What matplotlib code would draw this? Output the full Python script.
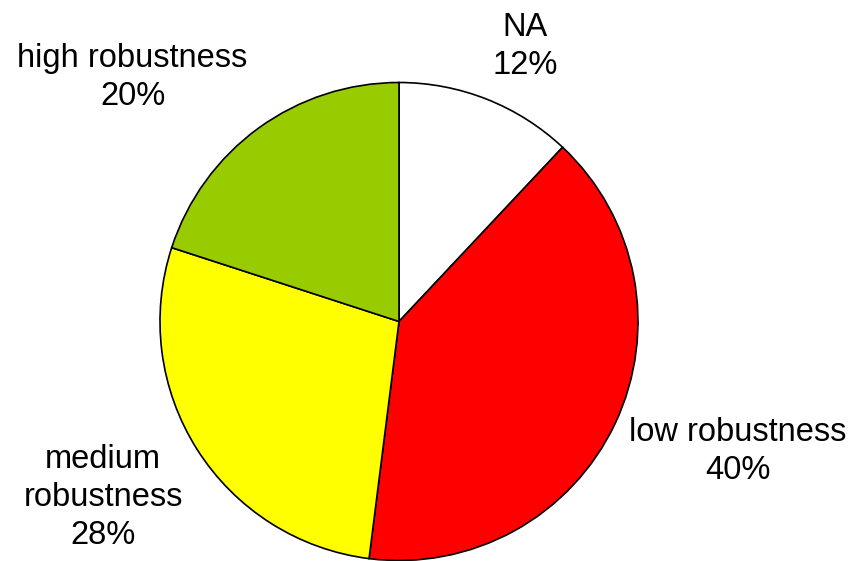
import matplotlib.pyplot as plt

plt.rcParams["font.family"] = ["Liberation Sans", "DejaVu Sans"]

categories = ["NA", "low robustness", "medium\nrobustness", "high robustness"]
shares = [12, 40, 28, 20]
colors = ["#FFFFFF", "#FF0000", "#FFFF00", "#99CC00"]

W, H = 852, 561
# label anchor (last-line baseline) in pixel coords, y from top
label_pos = [(525, 74), (737.5, 479), (103, 544), (132.5, 105)]

fig = plt.figure(figsize=(W / 100, H / 100), dpi=100)
ax = fig.add_axes([0, 0, 1, 1])

ax.pie(
    shares,
    colors=colors,
    startangle=90,
    counterclock=False,
    center=(399, H - 321.5),
    radius=239,
    wedgeprops=dict(edgecolor="black", linewidth=1.2),
    frame=True,
)
ax.set_xlim(0, W)
ax.set_ylim(0, H)
ax.axis("off")

for cat, val, (x, y) in zip(categories, shares, label_pos):
    ax.text(x, H - y, f"{cat}\n{val}%", ha="center", va="baseline",
            fontsize=23.5, linespacing=1.3, multialignment="center")

fig.savefig("out.png", dpi=100)
